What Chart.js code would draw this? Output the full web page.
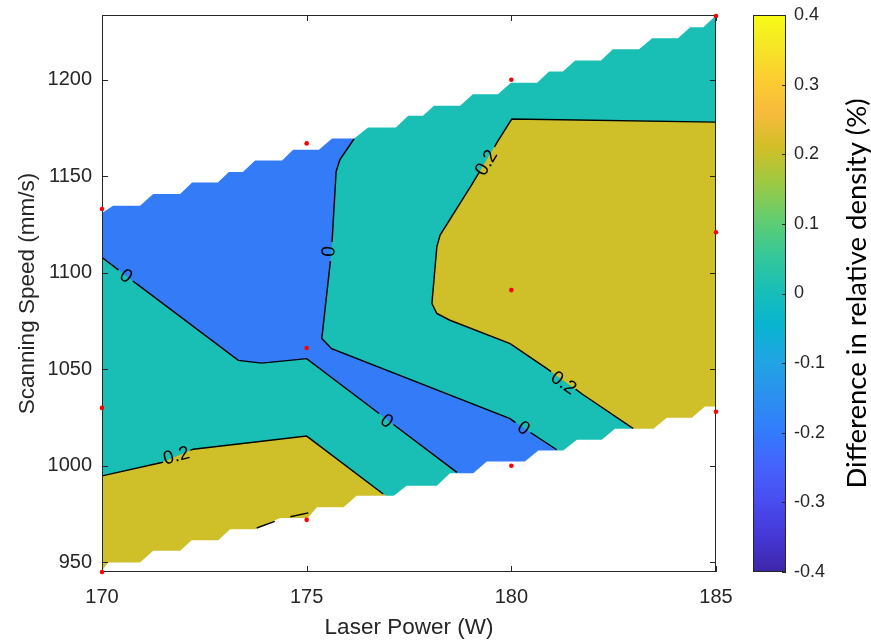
<!DOCTYPE html>
<html lang="en">
<head>
  <meta charset="utf-8" />
  <title>Difference in relative density - contour</title>
  <script src="https://cdn.jsdelivr.net/npm/chart.js@4/dist/chart.umd.min.js"></script>
  <style>
    body { margin: 0; background: #fff; }
    #wrap { position: relative; width: 871px; height: 642px; }
    #wrap canvas { position: absolute; top: 0; }
    #plot { left: 0; }
    #bar { left: 700px; }
  </style>
</head>
<body>
  <div id="wrap">
    <canvas id="plot" width="871" height="642"></canvas>
    <canvas id="bar" width="171" height="642"></canvas>
  </div>

  <script>
    // ---- data (laser power in W, scanning speed in mm/s) ----
    const powerTicks = [170, 175, 180, 185];
    const speedTicks = [950, 1000, 1050, 1100, 1150, 1200];
    const colorTicks = [-0.4, -0.3, -0.2, -0.1, 0, 0.1, 0.2, 0.3, 0.4];

    // measured samples (red dots)
    const samplePower = [170, 170, 170, 175, 175, 175, 180, 180, 180, 185, 185, 185];
    const sampleSpeed = [945, 1030, 1133, 972, 1061, 1167, 1000, 1091, 1200, 1028, 1121, 1233];

    // edges of the interpolated area (stair steps of the grid)
    const upperEdge = [
      [170.00, 1130.9], [170.27, 1134.7], [170.93, 1134.7], [171.25, 1140.8], [171.91, 1140.8],
      [172.20, 1146.7], [172.83, 1146.7], [173.10, 1152.2], [173.44, 1152.2], [173.74, 1158.1],
      [174.40, 1158.1], [174.67, 1163.7], [175.30, 1163.7], [175.62, 1169.5], [176.16, 1169.5],
      [176.50, 1175.2], [177.18, 1175.2], [177.48, 1181.3], [177.84, 1181.3], [178.11, 1186.5],
      [178.75, 1186.5], [179.06, 1192.4], [179.67, 1192.4], [179.99, 1198.4], [180.63, 1198.4],
      [180.92, 1204.3], [181.26, 1204.3], [181.56, 1209.9], [182.19, 1209.9], [182.48, 1215.7],
      [183.12, 1215.7], [183.44, 1221.4], [184.07, 1221.4], [184.37, 1227.2], [184.69, 1227.2],
      [185.00, 1233.2]
    ];
    const lowerEdge = [
      [170.00, 945.6], [170.15, 949.9], [170.93, 949.9], [171.25, 956.0], [171.91, 956.0],
      [172.19, 961.5], [172.84, 961.5], [173.13, 967.2], [173.74, 967.2], [174.35, 973.0],
      [175.03, 973.0], [175.25, 978.5], [175.90, 978.5], [176.22, 984.5], [177.13, 984.5],
      [177.44, 989.7], [178.18, 989.7], [178.50, 996.1], [179.07, 996.1], [179.40, 1002.2],
      [180.33, 1002.2], [180.66, 1007.9], [181.27, 1007.9], [181.60, 1013.5], [182.21, 1013.5],
      [182.53, 1019.2], [183.47, 1019.2], [183.80, 1024.9], [184.41, 1024.9], [184.73, 1030.7],
      [185.00, 1030.7]
    ];

    // filled bands
    const bandMid = [[170, 935], [170, 1240], [185, 1240], [185, 935]];               // 0 .. 0.2
    const bandLow = [                                                                   // -0.2 .. 0
      [170, 1189.6], [170, 1107.9], [170.89, 1093.6], [173.33, 1054.6], [173.90, 1053.2],
      [175.00, 1055.5], [178.67, 996.6], [178.99, 989.7], [181.19, 1000.1], [181.11, 1008.3],
      [180.58, 1015.7], [179.97, 1024.4], [175.61, 1060.7], [175.37, 1065.9], [175.58, 1106.0],
      [175.62, 1115.9], [175.72, 1152.4], [175.81, 1158.5], [176.16, 1169.4], [176.16, 1189.6],
      [181.3, 1240]
    ];
    const bandHighRight = [                                                             // 0.2 .. 0.4
      [178.06, 1084.1], [178.18, 1113.4], [178.26, 1119.5], [179.03, 1145.5], [179.64, 1167.1],
      [180.01, 1179.6], [185, 1178.0], [185, 1010], [183.3, 1010], [182.98, 1019.3],
      [181.72, 1037.3], [180.87, 1050.3], [179.97, 1063.3], [178.50, 1075.4], [178.18, 1078.9],
      [178.06, 1084.1], [185, 1084.1]
    ];
    const bandHighLeft = [
      [170, 935], [170, 994.8], [171.46, 1001.7], [172.23, 1008.6], [175.00, 1015.4],
      [176.87, 985.4], [177.2, 980.9], [177.2, 935]
    ];

    // contour lines (null = break for a label)
    const lineZeroLeft = [
      [170, 1107.9], [170.40, 1101.5], null, [170.75, 1095.7], [170.89, 1093.6], [173.33, 1054.6],
      [173.90, 1053.2], [175.00, 1055.5], [176.77, 1027.1], null, [177.12, 1021.4], [178.67, 996.6]
    ];
    const lineZeroRight = [
      [176.16, 1169.4], [175.81, 1158.5], [175.72, 1152.4], [175.62, 1115.9], null, [175.58, 1106.0],
      [175.37, 1065.9], [175.61, 1060.7], [179.97, 1024.4], [180.10, 1022.4], null, [180.47, 1017.2],
      [180.58, 1015.7], [181.11, 1008.3]
    ];
    const lineHighRight = [
      [185, 1178.0], [180.01, 1179.6], [179.64, 1167.1], [179.59, 1165.2], null, [179.21, 1151.8],
      [179.03, 1145.5], [178.26, 1119.5], [178.18, 1113.4], [178.06, 1084.1], [178.18, 1078.9],
      [178.50, 1075.4], [179.97, 1063.3], [180.87, 1050.3], [180.97, 1048.8], null, [181.57, 1039.7],
      [181.72, 1037.3], [182.98, 1019.3]
    ];
    const lineHighLeft = [
      [170, 994.8], [171.46, 1001.7], [171.49, 1001.9], null, [172.16, 1008.0], [172.23, 1008.6],
      [175.00, 1015.4], [176.87, 985.4]
    ];
    const linePeak = [[173.78, 967.8], [174.22, 971.2], null, [174.6, 973.6], [175.04, 975.6]];

    // contour labels
    const labelText = ['0', '0', '0', '0', '0.2', '0.2', '0.2'];
    const labelPower = [170.58, 175.55, 176.95, 180.29, 179.40, 181.27, 171.82];
    const labelSpeed = [1098.1, 1111.0, 1022.9, 1019.3, 1156.8, 1042.7, 1005.0];
    const labelAngle = [37, -85, 37, 34, -59, 35, -15];

    // parula colour map stops for the colour bar
    const parula = ['#3E26A8', '#4537D5', '#484DF0', '#4563FD', '#327CFC', '#2B91EF', '#20A5E3', '#08B5D0',
                    '#19BFB6', '#37C897', '#64CD6F', '#9DC943', '#D1BF27', '#F8BA3D', '#FCCF30', '#F5E924', '#F9FB15'];
    const parulaPos = [0, 4, 8, 12, 16, 20, 24, 28, 32, 36, 40, 44, 48, 52, 56, 60, 63].map(i => i / 63);

    // ---- helpers ----
    const AXIS = '#262626';
    const SANS = '"Liberation Sans", Arial, Helvetica, sans-serif';

    function pts(list) {
      return list.map((p, i) => p ? { x: p[0], y: p[1] } : { x: list[i - 1][0], y: null });
    }
    function region(list, color, order) {
      return {
        data: pts(list), fill: 'shape', backgroundColor: color,
        borderWidth: 0, borderColor: 'rgba(0,0,0,0)', pointRadius: 0, order
      };
    }
    function contour(list, order) {
      return { data: pts(list), fill: false, borderColor: '#000', borderWidth: 1.4, pointRadius: 0, order };
    }
    // no extra room for the outer tick labels, the layout padding handles it
    function noLabelPad(s) {
      s.paddingTop = 0; s.paddingBottom = 0; s.paddingLeft = 0; s.paddingRight = 0;
    }

    // box with inward tick marks
    function drawFrame(chart, opts) {
      const { ctx, chartArea: a } = chart;
      const len = opts.len;
      ctx.save();
      ctx.strokeStyle = AXIS;
      ctx.lineWidth = 1;
      ctx.strokeRect(a.left + 0.5, a.top + 0.5, a.width - 1, a.height - 1);
      ctx.beginPath();
      if (opts.x) {
        const sx = chart.scales.x;
        sx.ticks.forEach(t => {
          const p = Math.round(sx.getPixelForValue(t.value)) + 0.5;
          ctx.moveTo(p, a.bottom); ctx.lineTo(p, a.bottom - len);
          ctx.moveTo(p, a.top); ctx.lineTo(p, a.top + len);
        });
      }
      const sy = chart.scales.y;
      sy.ticks.forEach(t => {
        const p = Math.round(sy.getPixelForValue(t.value)) + 0.5;
        if (opts.left) { ctx.moveTo(a.left, p); ctx.lineTo(a.left + len, p); }
        ctx.moveTo(a.right, p); ctx.lineTo(a.right - len, p);
      });
      ctx.stroke();
      ctx.restore();
    }
    const frame = {
      id: 'frame',
      beforeDatasetDraw(chart, args, opts) {
        if (opts.under === args.index) drawFrame(chart, opts);
      },
      afterDraw(chart, args, opts) {
        if (opts.under === undefined) drawFrame(chart, opts);
      }
    };

    const contourLabels = {
      id: 'contourLabels',
      afterDatasetsDraw(chart) {
        const { ctx, scales: { x, y } } = chart;
        ctx.save();
        ctx.fillStyle = '#000';
        ctx.font = '19px ' + SANS;
        ctx.textAlign = 'center';
        ctx.textBaseline = 'middle';
        labelText.forEach((t, i) => {
          ctx.save();
          ctx.translate(x.getPixelForValue(labelPower[i]), y.getPixelForValue(labelSpeed[i]));
          ctx.rotate(labelAngle[i] * Math.PI / 180);
          ctx.fillText(t, 0, 0);
          ctx.restore();
        });
        ctx.restore();
      }
    };

    const barTitle = {
      id: 'barTitle',
      afterDraw(chart) {
        const { ctx, chartArea: a } = chart;
        ctx.save();
        ctx.translate(157, (a.top + a.bottom) / 2);
        ctx.rotate(-Math.PI / 2);
        ctx.fillStyle = '#000';
        ctx.font = '27.5px Lato, "Open Sans", sans-serif';
        ctx.textAlign = 'center';
        ctx.textBaseline = 'middle';
        ctx.fillText('Difference in relative density (%)', 0, 0);
        ctx.restore();
      }
    };

    // ---- contour plot ----
    new Chart(document.getElementById('plot'), {
      type: 'line',
      data: {
        datasets: [
          {
            data: samplePower.map((p, i) => ({ x: p, y: sampleSpeed[i] })),
            showLine: false, pointRadius: 2.3, pointBackgroundColor: '#ff0000',
            pointBorderWidth: 0, clip: false, order: 0
          },
          contour(linePeak, 1),
          region([[170, 1240], ...upperEdge, [185, 1240]], '#ffffff', 2),
          region([[170, 935], ...lowerEdge, [185, 935]], '#ffffff', 2),
          contour(lineZeroLeft, 3),
          contour(lineZeroRight, 3),
          contour(lineHighRight, 3),
          contour(lineHighLeft, 3),
          region(bandHighRight, '#CFC02A', 4),
          region(bandHighLeft, '#CFC02A', 4),
          region(bandLow, '#337BF7', 5),
          region(bandMid, '#19BFB5', 6)
        ]
      },
      options: {
        responsive: false,
        animation: false,
        devicePixelRatio: 1,
        events: [],
        layout: { padding: { left: 0, top: 15, right: 155, bottom: 0 } },
        scales: {
          x: {
            type: 'linear', min: 170, max: 185,
            afterBuildTicks: s => { s.ticks = powerTicks.map(v => ({ value: v })); },
            afterFit: s => { s.height = 70; noLabelPad(s); },
            grid: { display: false, drawTicks: false },
            border: { display: false },
            ticks: { font: { family: SANS, size: 20 }, color: AXIS, padding: 13, maxRotation: 0, callback: v => String(v) },
            title: { display: true, text: 'Laser Power (W)', color: AXIS, font: { family: SANS, size: 22.5 }, padding: { top: 0, bottom: 0.5 } }
          },
          y: {
            type: 'linear', min: 945, max: 1233.5,
            afterBuildTicks: s => { s.ticks = speedTicks.map(v => ({ value: v })); },
            afterFit: s => { s.width = 102; noLabelPad(s); },
            grid: { display: false, drawTicks: false },
            border: { display: false },
            ticks: { font: { family: SANS, size: 20 }, color: AXIS, padding: 10, callback: v => String(v) },
            title: { display: true, text: 'Scanning Speed (mm/s)', color: AXIS, font: { family: SANS, size: 22.5 }, padding: { top: 14, bottom: 0 } }
          }
        },
        plugins: {
          legend: { display: false },
          tooltip: { enabled: false },
          frame: { x: true, left: true, len: 6, under: 0 }
        }
      },
      plugins: [contourLabels, frame]
    });

    // ---- colour bar ----
    function parulaGradient(chart) {
      const a = chart.chartArea;
      if (!a) return parula[0];
      const g = chart.ctx.createLinearGradient(0, a.bottom, 0, a.top);
      parula.forEach((c, i) => g.addColorStop(parulaPos[i], c));
      return g;
    }

    new Chart(document.getElementById('bar'), {
      type: 'bar',
      data: {
        labels: [''],
        datasets: [{
          data: [[colorTicks[0], colorTicks[colorTicks.length - 1]]],
          backgroundColor: ctx => parulaGradient(ctx.chart),
          borderWidth: 0, barPercentage: 1, categoryPercentage: 1
        }]
      },
      options: {
        responsive: false,
        animation: false,
        devicePixelRatio: 1,
        events: [],
        layout: { padding: { left: 53, top: 15, right: 0, bottom: 70 } },
        scales: {
          x: { display: false },
          y: {
            position: 'right', min: -0.4, max: 0.4,
            afterBuildTicks: s => { s.ticks = colorTicks.map(v => ({ value: v })); },
            afterFit: s => { s.width = 85; noLabelPad(s); },
            grid: { display: false, drawTicks: false },
            border: { display: false },
            ticks: { font: { family: SANS, size: 18 }, color: AXIS, padding: 8, callback: v => String(v) }
          }
        },
        plugins: {
          legend: { display: false },
          tooltip: { enabled: false },
          frame: { x: false, left: false, len: 4 }
        }
      },
      plugins: [frame, barTitle]
    });
  </script>
</body>
</html>
